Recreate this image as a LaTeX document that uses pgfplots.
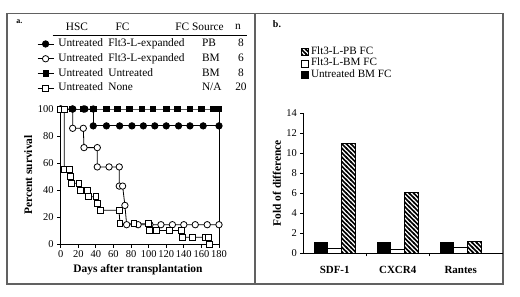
\documentclass[border=0pt]{standalone}
\usepackage{fontspec}
\setmainfont{Liberation Serif}
\usepackage{pgfplots}
\pgfplotsset{compat=1.18}
\usetikzlibrary{patterns.meta}

\tikzdeclarepattern{
  name=hatchNW,
  type=uncolored,
  bounding box={(-1bp,-1bp) and (5.5bp,5.5bp)},
  tile size={(4.5bp,4.5bp)},
  code={
    \draw[line width=1.5bp] (-1bp,5.5bp) -- (5.5bp,-1bp);
  }
}

\begin{document}
\begin{tikzpicture}
\path[use as bounding box] (0,0) rectangle (520bp,-297bp);
\draw[line width=1.3bp, color=black!62] (7bp,-13.3bp) rectangle (503bp,-284bp);
\draw[line width=1.3bp, color=black!62] (255bp,-13.3bp) -- (255bp,-284bp);

% table header of panel a
\node[font=\fontsize{8}{9}\selectfont\bfseries] at (19.3bp,-21.7bp) {a.};
\node[font=\fontsize{11.4}{12}\selectfont] at (77bp,-26.7bp) {HSC};
\node[font=\fontsize{11.4}{12}\selectfont] at (122.5bp,-26.7bp) {FC};
\node[font=\fontsize{11.4}{12}\selectfont] at (199.5bp,-26.7bp) {FC Source};
\node[font=\fontsize{11.4}{12}\selectfont] at (238bp,-26.7bp) {n};
\draw[line width=0.9bp] (52.7bp,-35bp) -- (247.3bp,-35bp);
\node[font=\fontsize{10}{11}\selectfont\bfseries] at (277bp,-24bp) {b.};

\begin{axis}[
  at={(60.7bp,-244bp)}, anchor=south west,
  scale only axis, width=158.3bp, height=135bp,
  xmin=0, xmax=180, ymin=0, ymax=100,
  axis x line*=bottom, axis y line*=left,
  axis line style={line width=0.8bp},
  xtick={0,20,...,180}, ytick={0,20,...,100},
  tick align=outside, major tick length=3.5bp,
  tick style={black, line width=0.8bp},
  clip=false,
  ticklabel style={font=\fontsize{10.5}{12}\selectfont},
  /pgf/number format/assume math mode=true,
  xlabel={Days after transplantation}, ylabel={Percent survival},
  label style={font=\fontsize{11.5}{13}\selectfont\bfseries},
  xlabel style={at={(axis description cs:0.488,-0.193)}, anchor=center},
  ylabel style={at={(axis description cs:-0.205,0.511)}, anchor=center},
  legend style={at={(axis description cs:-0.1497,1.524)}, anchor=north west,
    draw=none, fill=none, inner sep=0pt,
    font=\fontsize{11.4}{12}\selectfont, row sep=3.8bp,
    nodes={inner sep=0pt, text height=8bp, text depth=3bp},
    /tikz/every odd column/.style={column sep=4.3bp}},
  legend cell align=left,
  legend image code/.code={\draw[mark repeat=2,mark phase=2,#1] plot coordinates {(0bp,0bp)(8bp,0bp)(16bp,0bp)};},
]
\addlegendimage{black, line width=0.8bp, mark=*, mark size=3.2bp}
\addlegendentry{\makebox[50bp][l]{Untreated}\makebox[93.7bp][l]{Flt3-L-expanded}\makebox[30bp][l]{PB}\makebox[18bp][c]{8}}
\addlegendimage{black, line width=0.8bp, mark=*, mark size=3.2bp, mark options={fill=white}}
\addlegendentry{\makebox[50bp][l]{Untreated}\makebox[93.7bp][l]{Flt3-L-expanded}\makebox[30bp][l]{BM}\makebox[18bp][c]{6}}
\addlegendimage{black, line width=0.8bp, mark=square*, mark size=2.7bp}
\addlegendentry{\makebox[50bp][l]{Untreated}\makebox[93.7bp][l]{Untreated}\makebox[30bp][l]{BM}\makebox[18bp][c]{8}}
\addlegendimage{black, line width=0.8bp, mark=square*, mark size=2.9bp, mark options={fill=white}}
\addlegendentry{\makebox[50bp][l]{Untreated}\makebox[93.7bp][l]{None}\makebox[30bp][l]{N/A}\makebox[18bp][c]{20}}

% vertical line at day 180
\addplot[forget plot, black, line width=0.8bp, no marks] coordinates {(180,0) (180,100)};

% Flt3-L-expanded BM (open circles)
\addplot[forget plot, black, line width=0.8bp, mark=*, mark size=3.2bp, mark options={fill=white}] coordinates {
(0,100)(13.6,100)(13.6,85.7)(25.7,85.7)(26.5,71.4)(41.6,71.4)(41.6,57.1)(55,57.1)(66.6,57.1)
(66.6,42.9)(70.4,42.9)(73,28.6)(75,14.3)(88,14.3)(101.5,14.3)(114,14.3)(127,14.3)(140,14.3)
(153,14.3)(166.6,14.3)(180,14.3)};

% Flt3-L-expanded PB (filled circles)
\addplot[forget plot, black, line width=0.8bp, mark=*, mark size=3.2bp] coordinates {
(0,100)(13.6,100)(26,100)(27.5,100)(37,100)(37,87.5)(52,87.5)(67,87.5)(81,87.5)(94,87.5)
(107,87.5)(120,87.5)(134,87.5)(147,87.5)(162,87.5)(180,87.5)};

% Untreated BM (filled squares)
\addplot[forget plot, black, line width=0.8bp, mark=square*, mark size=2.7bp] coordinates {
(0,100)(12.5,100)(25.7,100)(37,100)(52,100)(64.5,100)(78,100)(92,100)(105,100)(120,100)
(132.5,100)(147,100)(160,100)(173,100)(180,100)};

% None (open squares)
\addplot[forget plot, black, line width=0.8bp, mark=square*, mark size=2.9bp, mark options={fill=white}] coordinates {
(0,100)(4,100)(4,55)(9.8,55)(11.2,50)(12.5,45)(20.8,45)(22,40)(30.3,40)(31.4,35)(40,35)
(41.5,30)(45.4,25)(66.3,25)(67.4,15)(83.3,15)(99.6,15)(100.7,10)(109,10)(124,10)(137.5,10)
(138.6,5)(150,5)(164,5)(167.8,5)(169,0)};
\end{axis}

\begin{axis}[
  at={(303.3bp,-253.3bp)}, anchor=south west,
  scale only axis, width=199.4bp, height=140bp,
  xmin=-0.498, xmax=2.667, ymin=0, ymax=14,
  axis x line*=bottom, axis y line*=left,
  axis line style={line width=0.8bp},
  ybar=0pt, bar width=13.7bp,
  xtick={0,1,2}, xticklabels={SDF-1,CXCR4,Rantes},
  major x tick style={draw=none},
  extra x ticks={0.5,1.5}, extra x tick labels={},
  extra x tick style={major x tick style={draw=black, line width=0.8bp}},
  ytick={0,2,...,14},
  tick align=outside, major tick length=3bp,
  tick style={black, line width=0.8bp},
  yticklabel style={font=\fontsize{10.5}{12}\selectfont},
  xticklabel style={font=\fontsize{11}{12}\selectfont\bfseries, yshift=-6.5bp},
  /pgf/number format/assume math mode=true,
  ylabel={Fold of difference},
  ylabel style={font=\fontsize{11.5}{13}\selectfont\bfseries, at={(axis description cs:-0.133,0.5)}, anchor=center},
  legend style={at={(axis description cs:-0.013,1.476)}, anchor=north west,
    draw=none, fill=none, inner sep=0pt,
    font=\fontsize{11.2}{12}\selectfont, row sep=0.5bp,
    nodes={inner sep=0pt, text height=7.8bp, text depth=3bp},
    /tikz/every odd column/.style={column sep=2.3bp}},
  legend cell align=left,
  reverse legend,
  legend image code/.code={\draw[#1,line width=0.8bp] (0bp,-3.5bp) rectangle (7bp,3.5bp);},
]
\addplot[fill=black, draw=black, line width=0.9bp] coordinates {(0,1.05)(1,1.05)(2,1.05)};
\addlegendentry{Untreated BM FC}
\addplot[fill=white, draw=black, line width=0.9bp] coordinates {(0,0.5)(1,0.4)(2,0.57)};
\addlegendentry{Flt3-L-BM FC}
\addplot[fill=white, draw=black, line width=0.9bp, postaction={pattern=hatchNW}] coordinates {(0,11.0)(1,6.1)(2,1.15)};
\addlegendentry{Flt3-L-PB FC}
\end{axis}
\end{tikzpicture}
\end{document}
